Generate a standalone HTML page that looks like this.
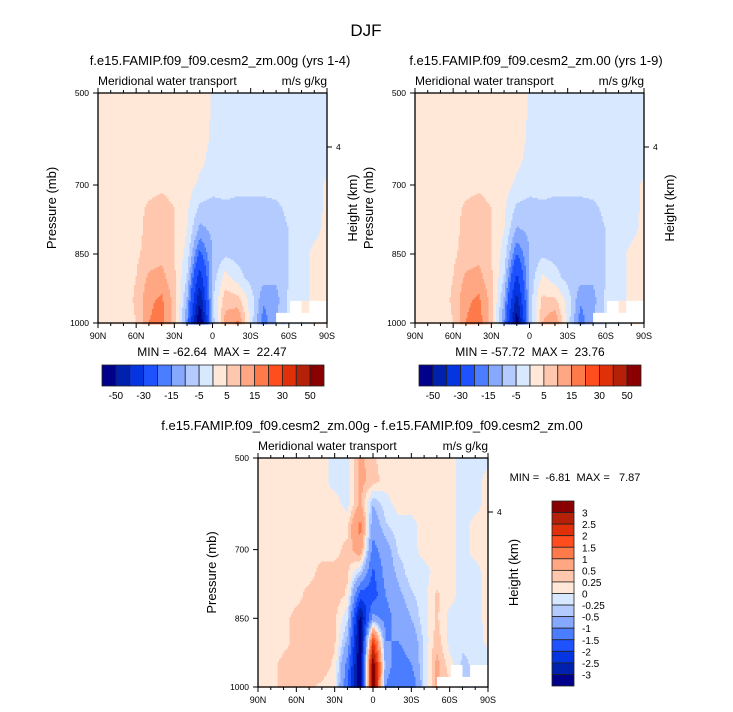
<!DOCTYPE html>
<html><head><meta charset="utf-8">
<style>
body{margin:0;background:#fff;}
svg{display:block;font-family:"Liberation Sans",sans-serif;}
.pre{white-space:pre;}
</style></head>
<body>
<svg id="chart" width="733" height="712" viewBox="0 0 733 712">
<text x="366" y="36" font-size="17" text-anchor="middle">DJF</text>
</svg>
<script>
// ---------- data ----------
const latLabels = ["90N","60N","30N","0","30S","60S","90S"];
const pressureTicks = [500,700,850,1000];
const levelsTop = [-50,-40,-30,-20,-15,-10,-5,0,5,10,15,20,30,40,50];
const levelsTopLabels = ["-50","-30","-15","-5","5","15","30","50"];
const levelsDiff = [-3,-2.5,-2,-1.5,-1,-0.5,-0.25,0,0.25,0.5,1,1.5,2,2.5,3];
const levelsDiffLabels = ["3","2.5","2","1.5","1","0.5","0.25","0","-0.25","-0.5","-1","-1.5","-2","-2.5","-3"];
const palette = ["#00008a","#0021ae","#0535e0","#1f52ff","#4a7dff","#86a8ff","#b4cbff","#d8e9ff","#ffe8d8","#ffc7ae","#ffa682","#ff7a4a","#ff4d1d","#e0300a","#b42008","#8a0000"];
// rows: 500..1000 mb step 50, cols: 90N..90S step 10
const fieldA = [
[2,2,2,2,2,2,2,2,2,-0.3,-2,-2,-2,-2,-2,-2,-2,-2,-2],
[2,2,2,2,2,2,2,2,2,-0.5,-2,-2,-2,-2,-2,-2,-2,-2,-2],
[2,2,2,2,2,2,2,2,2,-0.8,-2,-2,-2,-2,-2,-2,-2,-2,-2],
[2,2,2,2,2,2,2,2,1,-1.5,-2,-2,-2,-2,-2,-2,-2,-2,-2],
[2,2,2,2,3,4,3,2,-1,-3,-3,-3,-3,-3,-3,-2,-2,-2,1],
[2,2,2,3,6,7,5,1,-6,-7,-6,-7,-7,-7,-6,-4,-3,-2,1],
[2,2,2,3,7,8,5,0,-12,-9,-5,-7,-7,-7,-7,-5,-3,-2,2],
[2,2,2,4,7,8,5,-2,-22,-10,-6,-7,-7,-7,-7,-5,-3,2,3],
[2,2,2,5,11,12,6,-5,-35,-8,2,-3,-7,-8,-9,-5,-3,2,3],
[2,2,2,6,14,16,8,-10,-48,-6,8,7,-2,-14,-12,-4,-3,2,3],
[2,2,2,5,15,17,8,-15,-62,-8,12,16,-2,-18,-10,-4,-3,2,3]];
const fieldB = [
[2,2,2,2,2,2,2,2,2,-0.3,-2,-2,-2,-2,-2,-2,-2,-2,-2],
[2,2,2,2,2,2,2,2,2,-0.5,-2,-2,-2,-2,-2,-2,-2,-2,-2],
[2,2,2,2,2,2,2,2,2,-0.8,-2,-2,-2,-2,-2,-2,-2,-2,-2],
[2,2,2,2,2,2,2,2,1,-1.5,-2,-2,-2,-2,-2,-2,-2,-2,-2],
[2,2,2,2,3,4,3,2,-1,-3,-3,-3,-3,-3,-3,-2,-2,-2,1],
[2,2,2,3,6,7,5,1,-6,-7,-6,-7,-7,-7,-6,-4,-3,-2,1],
[2,2,2,3,7,8,5,0,-11,-9,-5,-7,-7,-7,-7,-5,-3,-2,2],
[2,2,2,4,7,8,5,-2,-20,-10,-6,-7,-7,-7,-7,-5,-3,2,3],
[2,2,2,5,11,12,6,-5,-32,-9,1,-3,-7,-8,-9,-5,-3,2,3],
[2,2,2,6,14,16,8,-10,-44,-8,6,6,-2,-14,-12,-4,-3,2,3],
[2,2,2,5,15,18,8,-15,-57,-10,10,15,-2,-18,-10,-4,-3,2,3]];
const fieldDiff = [
[.1,.1,.1,.1,.1,.1,-.1,-.1,.6,.3,.1,.1,.1,.1,.1,.1,-.1,-.1,-.1],
[.1,.1,.1,.1,.1,.1,-.1,-.1,.6,.4,.1,.1,.1,.1,.1,.1,-.1,-.1,.1],
[.1,.1,.1,.1,.1,.1,.1,-.1,.6,-.5,-.1,.1,.1,.1,.1,.1,-.1,-.1,.1],
[.1,.1,.1,.1,.1,.1,.2,.2,1.2,-.8,-.3,-.1,-.1,.1,.1,.1,-.1,.1,.1],
[.1,.1,.1,.1,.2,.2,.2,.3,.8,-1.2,-.7,-.2,-.1,.1,.1,.1,-.1,.1,.1],
[.1,.1,.1,.2,.2,.3,.3,.3,-.3,-1.6,-.8,-.4,-.1,-.1,.1,.1,-.1,-.1,.1],
[.1,.1,.2,.2,.3,.3,.4,.2,-1.8,-1.8,-1,-.6,-.3,-.1,.3,.1,-.1,-.1,.1],
[.1,.1,.2,.3,.3,.3,.3,-.2,-3.2,-.8,-1.2,-.8,-.5,-.1,.3,-.1,-.1,-.1,.1],
[.1,.1,.2,.3,.3,.3,.3,-.6,-3.5,2,-1,-1,-.8,-.2,.4,-.1,-.2,-.2,.1],
[.1,.2,.3,.3,.4,.4,.2,-1.2,-3.5,3.5,-.8,-1.2,-1,-.2,.6,.1,-.3,-.2,-.2],
[.1,.2,.3,.3,.3,.2,.1,-1.5,-3.5,3.5,-1,-1.5,-1.5,-.2,.6,.3,-.3,-.2,-.2]];
const summaries = ["MIN = -62.64  MAX =  22.47","MIN = -57.72  MAX =  23.76","MIN =  -6.81  MAX =   7.87"];

// ---------- drawing ----------
const NS="http://www.w3.org/2000/svg";
const svg=document.getElementById('chart');
function mk(tag,attrs,parent,text){const e=document.createElementNS(NS,tag);for(const k in attrs)e.setAttribute(k,attrs[k]);if(text!==undefined)e.textContent=text;(parent||svg).appendChild(e);return e;}
function colorIdx(v,levels){let i=0;while(i<levels.length&&v>=levels[i])i++;return i;}
function sample(f,lat,p){
  const cx=Math.min(Math.max(lat/10,0),18), cy=Math.min(Math.max((p-500)/50,0),10);
  const x0=Math.min(Math.floor(cx),17), y0=Math.min(Math.floor(cy),9);
  const fx=cx-x0, fy=cy-y0;
  return f[y0][x0]*(1-fx)*(1-fy)+f[y0][x0+1]*fx*(1-fy)+f[y0+1][x0]*(1-fx)*fy+f[y0+1][x0+1]*fx*fy;
}
function panel(o){
  const {x,y,w,h,field,levels,name,title}=o;
  const g=mk('g',{},svg);
  
  
  const xs=v=>x+v/180*w, ys=p=>y+(p-500)/500*h;
  const fg=mk('g',{},g);
  
  
  const step=1.5;
  for(let py=0;py<h;py+=step){
    const p=500+(py+step/2)/h*500;
    let runStart=0,runC=-1;
    const flush=(end)=>{ if(runC>=0) mk('rect',{x:(x+runStart).toFixed(1),y:(y+py).toFixed(1),width:(Math.min(end,w)-runStart+0.4).toFixed(1),height:step+0.4,fill:palette[runC]},fg); };
    for(let px=0;px<w;px+=step){
      const lat=Math.min((px+step/2)/w*180,180);
      const c=colorIdx(sample(field,lat,p),levels);
      if(c!==runC){ flush(px); runStart=px; runC=c; }
    }
    flush(w);
  }
  mk('rect',{x:xs(140),y:ys(978),width:xs(180)-xs(140),height:ys(1000)-ys(978),fill:'#fff'},g);
  mk('rect',{x:xs(151),y:ys(952),width:xs(180)-xs(151),height:ys(1000)-ys(952),fill:'#fff'},g);
  mk('rect',{x:xs(160),y:ys(952),width:xs(166)-xs(160),height:ys(978)-ys(952),fill:palette[o.stepFill]},g);
  const fr=mk('rect',{x:x,y:y,width:w,height:h,fill:'none',stroke:'#000','stroke-width':1.3},g);
  
  for(let l=0;l<=180;l+=10){
    const major=l%30===0, L=major?5:3;
    mk('line',{x1:xs(l),x2:xs(l),y1:y+h,y2:y+h+L,stroke:'#000'},g);
    mk('line',{x1:xs(l),x2:xs(l),y1:y,y2:y-L,stroke:'#000'},g);
  }
  latLabels.forEach((t,i)=>{const e=mk('text',{x:xs(i*30),y:y+h+16,'font-size':9,'text-anchor':'middle'},g,t);
    });
  pressureTicks.forEach(p=>{mk('line',{x1:x,x2:x-5,y1:ys(p),y2:ys(p),stroke:'#000'},g);
    const e=mk('text',{x:x-9,y:ys(p)+3,'font-size':8.5,'text-anchor':'end'},g,String(p));
    });
  mk('line',{x1:x+w,x2:x+w+5,y1:y+54,y2:y+54,stroke:'#000'},g);
  mk('text',{x:x+w+9,y:y+57,'font-size':8.5},g,'4');
  const yt=mk('text',{transform:`translate(${x-42},${y+h/2}) rotate(-90)`,'font-size':13,'text-anchor':'middle'},g,'Pressure (mb)');
  
  const rt=mk('text',{transform:`translate(${x+w+30},${y+h/2}) rotate(-90)`,'font-size':13,'text-anchor':'middle'},g,'Height (km)');
  
  const lt=mk('text',{x:x,y:y-8,'font-size':12},g,'Meridional water transport');
  
  const ut=mk('text',{x:x+w,y:y-8,'font-size':12,'text-anchor':'end'},g,'m/s g/kg');
  
  const tt=mk('text',{x:o.tx,y:y-28,'font-size':13,'text-anchor':'middle'},g,title);
  
}
function hbar(x,y,w,h){
  const g=mk('g',{},svg);
  
  const bw=w/16;
  palette.forEach((c,i)=>mk('rect',{x:x+i*bw,y:y,width:bw,height:h,fill:c,stroke:'#222','stroke-width':0.8},g));
  levelsTopLabels.forEach((t,i)=>{const e=mk('text',{x:x+(1+2*i)*bw,y:y+h+13,'font-size':10,'text-anchor':'middle'},g,t);
    });
}
panel({x:98,y:93,w:229,h:230,field:fieldA,levels:levelsTop,name:'panel-test-case',title:'f.e15.FAMIP.f09_f09.cesm2_zm.00g (yrs 1-4)',tx:220,stepFill:8});
panel({x:415,y:93,w:229,h:230,field:fieldB,levels:levelsTop,name:'panel-control-case',title:'f.e15.FAMIP.f09_f09.cesm2_zm.00 (yrs 1-9)',tx:536,stepFill:8});
panel({x:258,y:458,w:230,h:229,field:fieldDiff,levels:levelsDiff,name:'panel-difference',title:'f.e15.FAMIP.f09_f09.cesm2_zm.00g - f.e15.FAMIP.f09_f09.cesm2_zm.00',tx:372,stepFill:6});
const s1=mk('text',{x:212,y:356,'font-size':12,'text-anchor':'middle','class':'pre'},svg,summaries[0]);

const s2=mk('text',{x:530,y:356,'font-size':12,'text-anchor':'middle','class':'pre'},svg,summaries[1]);

const s3=mk('text',{x:575,y:481,'font-size':11,'text-anchor':'middle','class':'pre'},svg,summaries[2]);

hbar(102,365,222,21);
hbar(419,365,222,21);
(function(){
  const g=mk('g',{},svg);
  
  const x=552,y=501,w=22,h=185,bh=h/16;
  palette.slice().reverse().forEach((c,i)=>mk('rect',{x:x,y:y+i*bh,width:w,height:bh,fill:c,stroke:'#222','stroke-width':0.8},g));
  levelsDiffLabels.forEach((t,i)=>{const e=mk('text',{x:x+w+8,y:y+(i+1)*bh+4,'font-size':10},g,t);
    });
})();
</script>
</body></html>
